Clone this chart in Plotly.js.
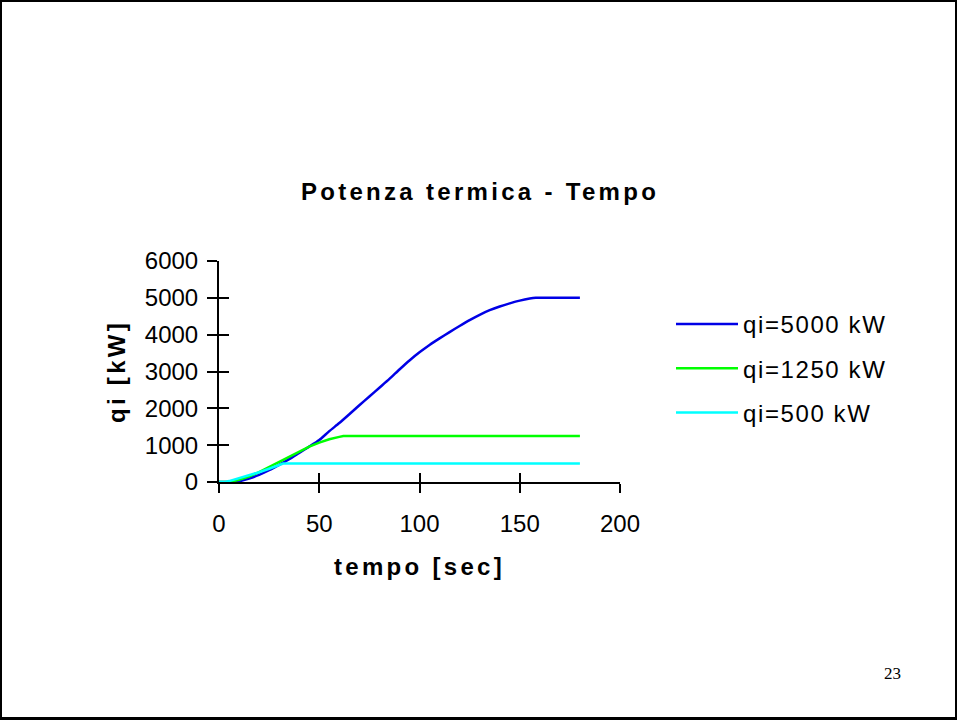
<!DOCTYPE html>
<html>
<head>
<meta charset="utf-8">
<script src="https://cdn.plot.ly/plotly-3.0.1.min.js"></script>
<style>
  html, body { margin: 0; padding: 0; background: #fff; }
  #wrap { position: relative; width: 957px; height: 720px; }
  #chart { position: absolute; left: 0; top: 0; width: 957px; height: 720px; }
  #frame { position: absolute; left: 0; top: 0; width: 957px; height: 720px; box-sizing: border-box;
           border-style: solid; border-color: #000; border-width: 2px 2px 3px 2px; pointer-events: none; }
  .gtitle, .xtitle, .ytitle { letter-spacing: 3.3px; }
  .legendtext { letter-spacing: 1.6px; }
</style>
</head>
<body>
<div id="wrap">
  <div id="chart"></div>
  <div id="frame"></div>
</div>
<script>
// ---- data ----
const seriesNames = ["qi=5000 kW", "qi=1250 kW", "qi=500 kW"];

const t5000 = [0, 5, 10, 15, 20, 25, 30, 35, 40, 45, 50, 55, 60, 65, 70, 75, 80, 85, 90, 95,
               100, 105, 110, 115, 120, 125, 130, 135, 140, 145, 150, 155, 158, 170, 180];
const q5000 = [0, 0, 20, 95, 195, 320, 465, 620, 790, 960, 1140, 1380, 1600, 1840, 2085, 2320, 2560, 2800, 3055, 3300,
               3520, 3720, 3900, 4070, 4235, 4395, 4540, 4665, 4765, 4850, 4925, 4980, 5000, 5000, 5000];

const t1250 = [0, 5, 10, 15, 20, 25, 30, 35, 40, 45, 50, 55, 60, 62, 70, 100, 140, 180];
const q1250 = [0, 0, 60, 150, 270, 410, 550, 680, 820, 960, 1070, 1160, 1225, 1250, 1250, 1250, 1250, 1250];

const t500 = [0, 3, 5, 10, 15, 20, 25, 30, 32, 50, 100, 140, 180];
const q500 = [0, 0, 25, 100, 180, 265, 360, 460, 500, 500, 500, 500, 500];

const xTickVals = [0, 50, 100, 150, 200];
const yTickVals = [0, 1000, 2000, 3000, 4000, 5000, 6000];

const colors = ["#0000e6", "#00ff00", "#00ffff"];

const traces = [
  {x: t5000, y: q5000, name: seriesNames[0], legendgroup: "a", line: {color: colors[0], width: 2.5, shape: "spline", smoothing: 0.6}},
  {x: t1250, y: q1250, name: seriesNames[1], legendgroup: "b", line: {color: colors[1], width: 2.5}},
  {x: t500,  y: q500,  name: seriesNames[2], legendgroup: "c", line: {color: colors[2], width: 2.5}}
].map(tr => Object.assign({type: "scatter", mode: "lines", hoverinfo: "skip"}, tr));

const tickFont = {family: "Liberation Sans, Arial, sans-serif", size: 24, color: "#000"};
const boldFont = {family: "Liberation Sans, Arial, sans-serif", size: 24, color: "#000", weight: "bold"};

const layout = {
  width: 957, height: 720,
  margin: {l: 219, r: 337, t: 261, b: 238, pad: 0},
  paper_bgcolor: "#fff", plot_bgcolor: "#fff",
  showlegend: true,
  title: {text: "Potenza termica - Tempo", font: boldFont, x: 480/957, xref: "container", xanchor: "center",
          y: (720-192)/720, yref: "container", yanchor: "middle"},
  xaxis: {
    range: [0, 200], tickvals: xTickVals, ticks: "outside", ticklen: 9, tickwidth: 2, tickcolor: "#000",
    showline: true, linecolor: "#000", linewidth: 2, showgrid: false, zeroline: false,
    tickfont: tickFont, ticklabelstandoff: 10,
    title: {text: "tempo [sec]", font: boldFont, standoff: 22}
  },
  yaxis: {
    range: [0, 6000], tickvals: yTickVals, ticks: "outside", ticklen: 10, tickwidth: 2, tickcolor: "#000",
    showline: true, linecolor: "#000", linewidth: 2, showgrid: false, zeroline: false,
    tickfont: tickFont, ticklabelstandoff: 4,
    title: {text: "qi [kW]", font: boldFont, standoff: 12}
  },
  xaxis2: {overlaying: "x", matches: "x", range: [0, 200], tickvals: xTickVals, ticks: "inside", ticklen: 9, tickwidth: 2,
           tickcolor: "#000", showticklabels: false, showline: false, showgrid: false, zeroline: false},
  yaxis2: {overlaying: "y", range: [0, 6000], tickvals: yTickVals, ticks: "inside", ticklen: 10, tickwidth: 2,
           tickcolor: "#000", showticklabels: false, showline: false, showgrid: false, zeroline: false},
  legend: {x: (671-219)/401, xanchor: "left", y: (482-302)/221, yanchor: "top",
           font: {family: "Liberation Sans, Arial, sans-serif", size: 24, color: "#000"},
           itemwidth: 62, tracegroupgap: 10, bgcolor: "rgba(0,0,0,0)", borderwidth: 0},
  annotations: [
    {text: "23", xref: "paper", yref: "paper", x: (892-219)/401, y: (482-673)/221, xanchor: "center", yanchor: "middle",
     showarrow: false, font: {family: "Liberation Serif, Times New Roman, serif", size: 17, color: "#000"}}
  ]
};

// invisible helper trace to activate the secondary axes (crossing ticks)
traces.push({type: "scatter", mode: "lines", x: [0], y: [0], xaxis: "x2", yaxis: "y2",
             showlegend: false, hoverinfo: "skip", line: {color: "rgba(0,0,0,0)"}});

Plotly.newPlot("chart", traces, layout, {staticPlot: true, displayModeBar: false});
</script>
</body>
</html>
